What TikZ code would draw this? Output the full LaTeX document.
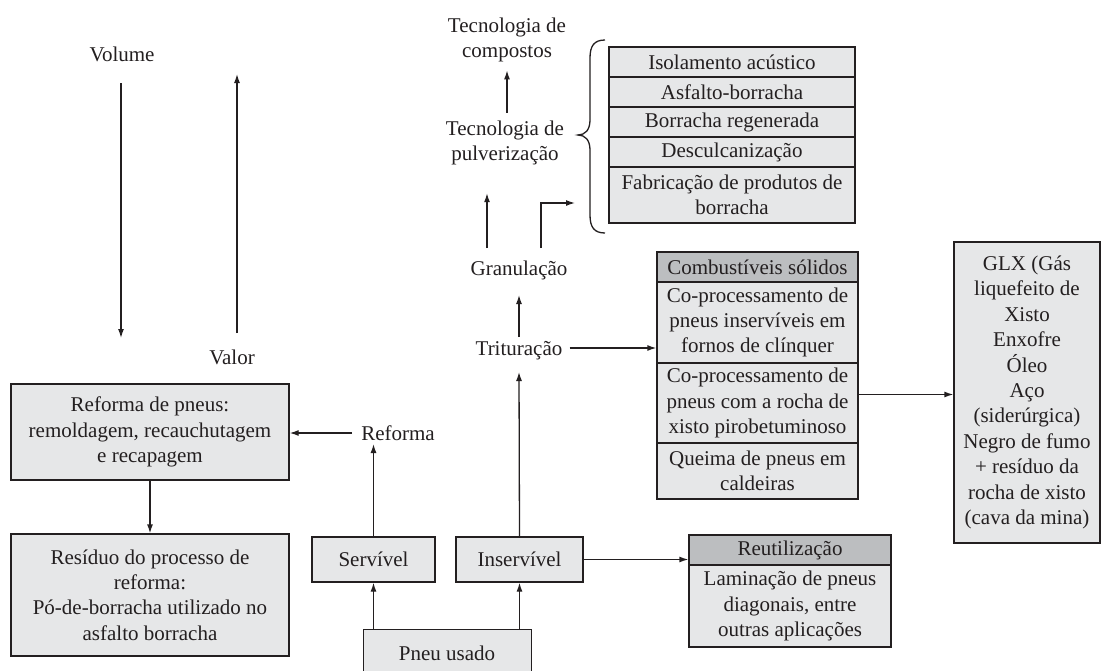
\documentclass[tikz,border=0pt]{standalone}
\usepackage{fontspec}
\setmainfont{Liberation Serif}
\usetikzlibrary{arrows.meta}
\definecolor{boxfill}{HTML}{E6E7E8}
\definecolor{hdrfill}{HTML}{BCBEC0}
\definecolor{linec}{HTML}{231F20}
\newcommand\myfs{\fontsize{21}{25.4}\selectfont}
\newcommand\gbox[7]{\node[#2, minimum width={(#5-#3)*1pt}, minimum height={(#6-#4)*1pt}] (#1) at ({(#3+#5)/2},{(#4+#6)/2}) {#7};}
\tikzset{
  gb/.style={draw=linec, fill=boxfill, line width=1.3pt, inner sep=0pt, align=center, font=\myfs, text=linec},
  hb/.style={gb, fill=hdrfill},
  lbl/.style={inner sep=0pt, align=center, font=\myfs, text=linec},
  arr/.style={draw=linec, line width=1.3pt, -{Latex[length=9pt,width=6pt]}},
  plain/.style={draw=linec, line width=1.3pt}
}
\begin{document}
\begin{tikzpicture}[x=1pt,y=-1pt]
\clip (0,0) rectangle (1102,670);
\fill[white] (0,0) rectangle (1102,670);

% Volume / Valor
\node[lbl, anchor=base] (vol) at (122,61) {Volume};
\node[lbl, anchor=base] (valor) at (232,364) {Valor};
\coordinate (vs) at (121,83);
\coordinate (ve) at (121,338);
\draw[arr] (vs) -- (ve);
\coordinate (ws) at (237,333);
\coordinate (we) at (237,74);
\draw[arr] (ws) -- (we);

% left boxes
\gbox{refbox}{gb}{11}{384}{289}{480}{Reforma de pneus:\\remoldagem, recauchutagem\\e recapagem}
\gbox{residuo}{gb}{11}{534}{289}{656}{Resíduo do processo de\\reforma:\\Pó-de-borracha utilizado no\\asfalto borracha}
\draw[arr] (refbox.south) -- (residuo.north);

% Reforma label
\node[lbl, anchor=base] (reflbl) at (398,440) {Reforma};
\coordinate (r1) at ([xshift=-9pt,yshift=7pt]reflbl.base west);
\draw[arr] (r1) -- (r1 -| refbox.east);

% bottom boxes
\gbox{serv}{gb}{312}{537}{435}{582}{Servível}
\gbox{inserv}{gb}{456}{537}{583}{582}{Inservível}
\node[gb, minimum width=168pt, minimum height=56pt, anchor=north west] (pneu) at (363,629) {};
\node[lbl, anchor=base] (pneutxt) at (447,660) {Pneu usado};
\draw[arr] (serv.south |- pneu.north) -- (serv.south);
\draw[arr] (inserv.south |- pneu.north) -- (inserv.south);
\draw[arr, shorten >=4pt] (serv.north) -- (serv.north |- reflbl.base);

% Trituracao / Granulacao
\node[lbl, anchor=base] (trit) at (519,355) {Trituração};
\node[lbl, anchor=base] (gran) at (519,275) {Granulação};
\draw[arr] (inserv.north) -- ([yshift=-17pt]trit.base);
\draw[arr] ([yshift=18pt]trit.base) -- ([yshift=-20pt]gran.base);

% Tecnologias
\node[lbl] (tc) at (507,40) {Tecnologia de\\compostos};
\node[lbl] (tp) at (505,143) {Tecnologia de\\pulverização};
\draw[arr, shorten <=7.7pt, shorten >=8pt] (tc.south |- tp.north) -- (tc.south);
\coordinate (g1) at ([xshift=-32pt,yshift=27pt]gran.base);
\draw[arr, shorten >=27.8pt] (g1) -- (g1 |- tp.south);
\coordinate (g2) at ([xshift=22pt,yshift=27pt]gran.base);
\coordinate (elb) at (575,203);
\draw[arr] (g2) |- (elb);

% brace
\draw[plain] (605,40) .. controls (594,40) and (590,46) .. (590,58) -- (590,120)
  .. controls (590,130) and (585,135) .. (578,135)
  .. controls (585,135) and (590,140) .. (590,150) -- (590,215)
  .. controls (590,227) and (594,233) .. (605,233);

% applications list
\gbox{a1}{gb}{609}{47}{855}{77}{Isolamento acústico}
\gbox{a2}{gb}{609}{77}{855}{107}{Asfalto-borracha}
\gbox{a3}{gb}{609}{107}{855}{137}{Borracha regenerada}
\gbox{a4}{gb}{609}{137}{855}{167}{Desculcanização}
\gbox{a5}{gb}{609}{167}{855}{223}{Fabricação de produtos de\\borracha}

% Combustiveis solidos
\gbox{c1}{hb}{657}{252}{858}{282}{Combustíveis sólidos}
\gbox{c2}{gb}{657}{282}{858}{363}{Co-processamento de\\pneus inservíveis em\\fornos de clínquer}
\gbox{c3}{gb}{657}{363}{858}{443}{Co-processamento de\\pneus com a rocha de\\xisto pirobetuminoso}
\gbox{c4}{gb}{657}{443}{858}{499}{Queima de pneus em\\caldeiras}
\coordinate (tr) at ([xshift=7pt,yshift=7pt]trit.base east);
\draw[arr] (tr) -- (tr -| c2.west);

% GLX
\gbox{glx}{gb}{954}{242}{1100}{543}{GLX (Gás\\liquefeito de\\Xisto\\Enxofre\\Óleo\\Aço\\(siderúrgica)\\Negro de fumo\\+ resíduo da\\rocha de xisto\\(cava da mina)}
\coordinate (c3o) at ([yshift=8.5pt]c3.east);
\draw[arr] (c3o) -- (c3o -| glx.west);

% Reutilizacao
\gbox{reut}{hb}{689}{535}{891}{565}{Reutilização}
\gbox{reutb}{gb}{689}{565}{891}{647}{Laminação de pneus\\diagonais, entre\\outras aplicações}
\draw[arr] (inserv.east) -- (inserv.east -| reut.west);
\end{tikzpicture}
\end{document}
